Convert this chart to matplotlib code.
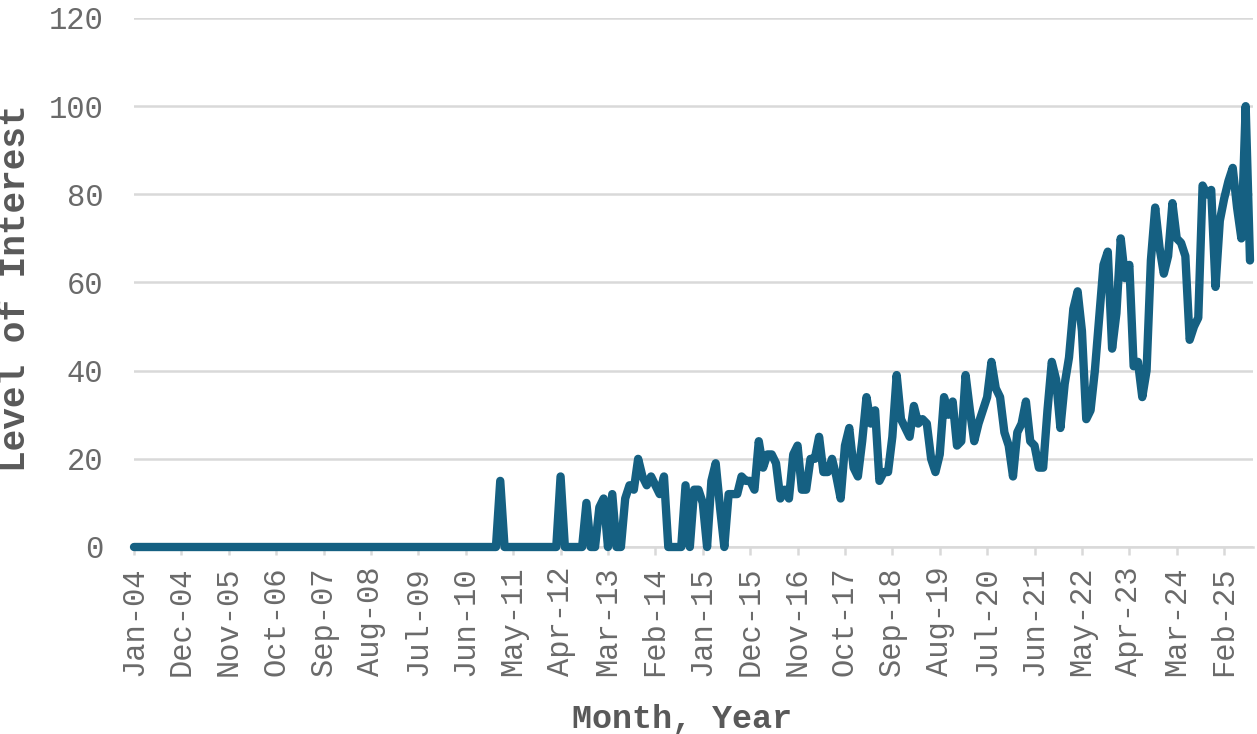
import matplotlib
matplotlib.use("Agg")
import matplotlib.pyplot as plt

# ---- data (monthly, Jan-2004 .. Aug-2025) ----
interest = [
    # 2004
    0, 0, 0, 0, 0, 0, 0, 0, 0, 0, 0, 0,
    # 2005
    0, 0, 0, 0, 0, 0, 0, 0, 0, 0, 0, 0,
    # 2006
    0, 0, 0, 0, 0, 0, 0, 0, 0, 0, 0, 0,
    # 2007
    0, 0, 0, 0, 0, 0, 0, 0, 0, 0, 0, 0,
    # 2008
    0, 0, 0, 0, 0, 0, 0, 0, 0, 0, 0, 0,
    # 2009
    0, 0, 0, 0, 0, 0, 0, 0, 0, 0, 0, 0,
    # 2010
    0, 0, 0, 0, 0, 0, 0, 0, 0, 0, 0, 0,
    # 2011
    0, 15, 0, 0, 0, 0, 0, 0, 0, 0, 0, 0,
    # 2012
    0, 0, 0, 16, 0, 0, 0, 0, 0, 10, 0, 0,
    # 2013
    9, 11, 0, 12, 0, 0, 11, 14, 13, 20, 16, 14,
    # 2014
    16, 14, 12, 16, 0, 0, 0, 0, 14, 0, 13, 13,
    # 2015
    10, 0, 15, 19, 9, 0, 12, 12, 12, 16, 15, 15,
    # 2016
    13, 24, 18, 21, 21, 19, 11, 13, 11, 21, 23, 13,
    # 2017
    13, 20, 20, 25, 17, 17, 20, 16, 11, 23, 27, 18,
    # 2018
    16, 24, 34, 28, 31, 15, 17, 17, 25, 39, 29, 27,
    # 2019
    25, 32, 28, 29, 28, 20, 17, 21, 34, 30, 33, 23,
    # 2020
    24, 39, 31, 24, 28, 31, 34, 42, 36, 34, 26, 23,
    # 2021
    16, 26, 28, 33, 24, 23, 18, 18, 31, 42, 38, 27,
    # 2022
    37, 43, 54, 58, 49, 29, 31, 40, 52, 64, 67, 45,
    # 2023
    53, 70, 61, 64, 41, 42, 34, 40, 65, 77, 68, 62,
    # 2024
    66, 78, 70, 69, 66, 47, 50, 52, 82, 80, 81, 59,
    # 2025
    74, 79, 83, 86, 77, 70, 100, 65,
]

tick_labels = ["Jan-04", "Dec-04", "Nov-05", "Oct-06", "Sep-07", "Aug-08",
               "Jul-09", "Jun-10", "May-11", "Apr-12", "Mar-13", "Feb-14",
               "Jan-15", "Dec-15", "Nov-16", "Oct-17", "Sep-18", "Aug-19",
               "Jul-20", "Jun-21", "May-22", "Apr-23", "Mar-24", "Feb-25"]
tick_step = 11
y_ticks = [0, 20, 40, 60, 80, 100, 120]

months = list(range(len(interest)))
tick_pos = months[::tick_step][:len(tick_labels)]

LINE = "#156082"
GRID = "#d9d9d9"
TXT = "#595959"
TICKTXT = "#6a6a6a"
FONT = ["Liberation Mono", "DejaVu Sans Mono"]

fig = plt.figure(figsize=(12.57, 7.34), dpi=100)
ax = fig.add_axes([134 / 1257, 1 - 547 / 734, (1253 - 134) / 1257, (547 - 18) / 734])

ax.plot(months, interest, color=LINE, linewidth=6.0, clip_on=False,
        solid_joinstyle="round", solid_capstyle="round", zorder=3)

ax.set_xlim(0, 259.7)
ax.set_ylim(0, 120)
ax.set_yticks(y_ticks)
ax.set_xticks(tick_pos)
ax.set_xticklabels(tick_labels, rotation=90, family=FONT, fontsize=22, color=TICKTXT)
ax.set_yticklabels([str(v) for v in y_ticks], family=FONT, fontsize=22, color=TICKTXT)

ax.grid(axis="y", color=GRID, linewidth=1.8, zorder=0)
ax.set_axisbelow(True)
for s in ["top", "right", "left"]:
    ax.spines[s].set_visible(False)
ax.spines["bottom"].set_color(GRID)
ax.spines["bottom"].set_linewidth(1.8)
ax.tick_params(axis="y", length=0, pad=22)
ax.tick_params(axis="x", length=6, width=1.8, color=GRID, pad=8)

fig.text(682 / 1257, 1 - 719 / 734, "Month, Year", ha="center", va="center",
         family=FONT, fontsize=24, fontweight="bold", color=TXT)
fig.text(16 / 1257, 1 - 288 / 734, "Level of Interest", ha="center", va="center",
         rotation=90, family=FONT, fontsize=26, fontweight="bold", color=TXT)

fig.savefig("out.png", dpi=100)
